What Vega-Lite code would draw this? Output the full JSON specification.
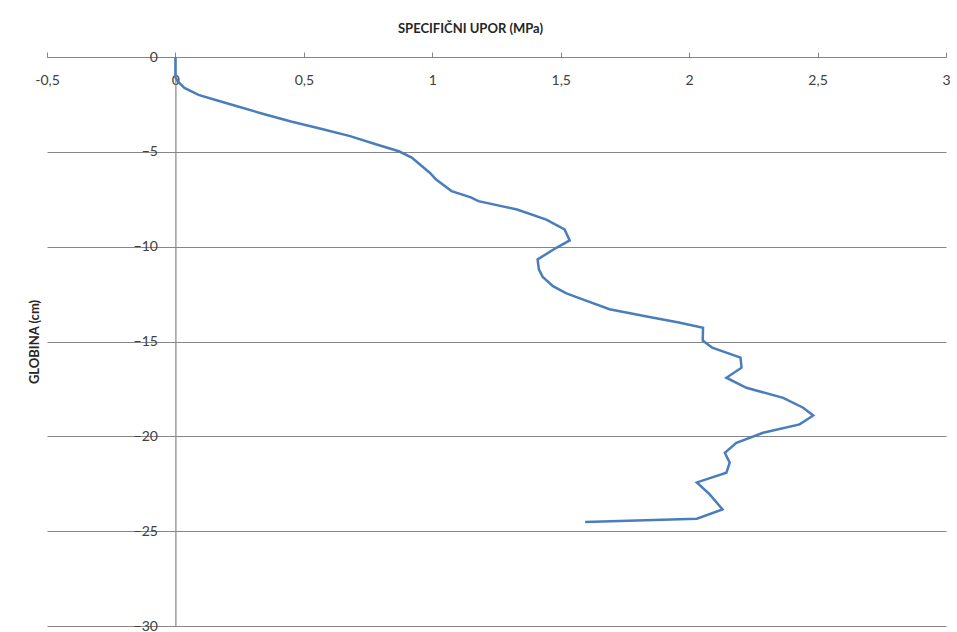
{
  "$schema": "https://vega.github.io/schema/vega-lite/v6.json",
  "width": 899,
  "height": 569,
  "autosize": "none",
  "padding": {"left": 47, "top": 57, "right": 11, "bottom": 6},
  "background": "white",
  "config": {
    "view": {"stroke": null},
    "font": "Lato",
    "axis": {"labelFont": "Lato", "titleFont": "Lato"}
  },
  "data": {
    "values": [
      {"d": 0, "v": 0},
      {"d": -1.08, "v": 0.0},
      {"d": -1.3, "v": 0.01},
      {"d": -1.63, "v": 0.035},
      {"d": -2.0, "v": 0.09},
      {"d": -2.24, "v": 0.15},
      {"d": -2.6, "v": 0.24},
      {"d": -3.03, "v": 0.35},
      {"d": -3.4, "v": 0.45},
      {"d": -3.8, "v": 0.57},
      {"d": -4.17, "v": 0.68},
      {"d": -4.6, "v": 0.78},
      {"d": -4.97, "v": 0.87},
      {"d": -5.3, "v": 0.92},
      {"d": -5.76, "v": 0.96},
      {"d": -6.1, "v": 0.99},
      {"d": -6.46, "v": 1.015},
      {"d": -7.07, "v": 1.075},
      {"d": -7.4, "v": 1.15},
      {"d": -7.6, "v": 1.18},
      {"d": -8.04, "v": 1.33},
      {"d": -8.57, "v": 1.444},
      {"d": -9.09, "v": 1.515},
      {"d": -9.67, "v": 1.535},
      {"d": -10.06, "v": 1.483},
      {"d": -10.67, "v": 1.41},
      {"d": -11.2, "v": 1.415},
      {"d": -11.6, "v": 1.43},
      {"d": -12.08, "v": 1.47},
      {"d": -12.45, "v": 1.52},
      {"d": -12.75, "v": 1.58},
      {"d": -13.3, "v": 1.69},
      {"d": -13.7, "v": 1.84},
      {"d": -14.0, "v": 1.96},
      {"d": -14.28, "v": 2.054},
      {"d": -14.95, "v": 2.053},
      {"d": -15.33, "v": 2.09},
      {"d": -15.85, "v": 2.2},
      {"d": -16.38, "v": 2.204},
      {"d": -16.91, "v": 2.145},
      {"d": -17.44, "v": 2.223},
      {"d": -17.97, "v": 2.366},
      {"d": -18.49, "v": 2.444},
      {"d": -18.9, "v": 2.483},
      {"d": -19.37, "v": 2.43},
      {"d": -19.81, "v": 2.288},
      {"d": -20.34, "v": 2.184},
      {"d": -20.87, "v": 2.139},
      {"d": -21.39, "v": 2.158},
      {"d": -21.92, "v": 2.145},
      {"d": -22.43, "v": 2.03},
      {"d": -23.06, "v": 2.08},
      {"d": -23.85, "v": 2.13},
      {"d": -24.34, "v": 2.03},
      {"d": -24.52, "v": 1.595}
    ]
  },
  "mark": {"type": "line", "color": "#4a7ebb", "strokeWidth": 2.5, "clip": false},
  "encoding": {
    "x": {
      "field": "v",
      "type": "quantitative",
      "scale": {"domain": [-0.5, 3], "nice": false, "zero": false},
      "axis": {
        "orient": "top",
        "title": "SPECIFIČNI UPOR  (MPa)",
        "titleFontWeight": "bold",
        "titleFontSize": 13,
        "titleColor": "#262626",
        "titleX": 423,
        "titleY": -29,
        "titleBaseline": "middle",
        "titleAlign": "center",
        "values": [-0.5, 0, 0.5, 1, 1.5, 2, 2.5, 3],
        "labelExpr": "replace(toString(datum.value), '.', ',')",
        "labelFontSize": 14,
        "labelColor": "#404040",
        "labelBaseline": "middle",
        "labelPadding": -28.5,
        "labelFlush": false,
        "labelOverlap": false,
        "tickSize": 5,
        "tickColor": "#868686",
        "domainColor": "#868686",
        "domainWidth": 1.2,
        "grid": false
      }
    },
    "y": {
      "field": "d",
      "type": "quantitative",
      "scale": {"domain": [-30, 0], "nice": false, "zero": false},
      "axis": {
        "orient": "left",
        "offset": -128.4,
        "title": "GLOBINA  (cm)",
        "titleFontWeight": "bold",
        "titleFontSize": 13,
        "titleColor": "#262626",
        "titleX": -141,
        "titleY": 284.5,
        "titleAngle": -90,
        "titleBaseline": "middle",
        "titleAlign": "center",
        "values": [0, -5, -10, -15, -20, -25, -30],
        "labelFontSize": 14,
        "labelColor": "#404040",
        "labelPadding": 18,
        "ticks": false,
        "domainColor": "#868686",
        "domainWidth": 1.2,
        "grid": true,
        "gridColor": "#868686",
        "gridWidth": 1.2
      }
    },
    "order": {"field": "d", "sort": "descending"}
  }
}
